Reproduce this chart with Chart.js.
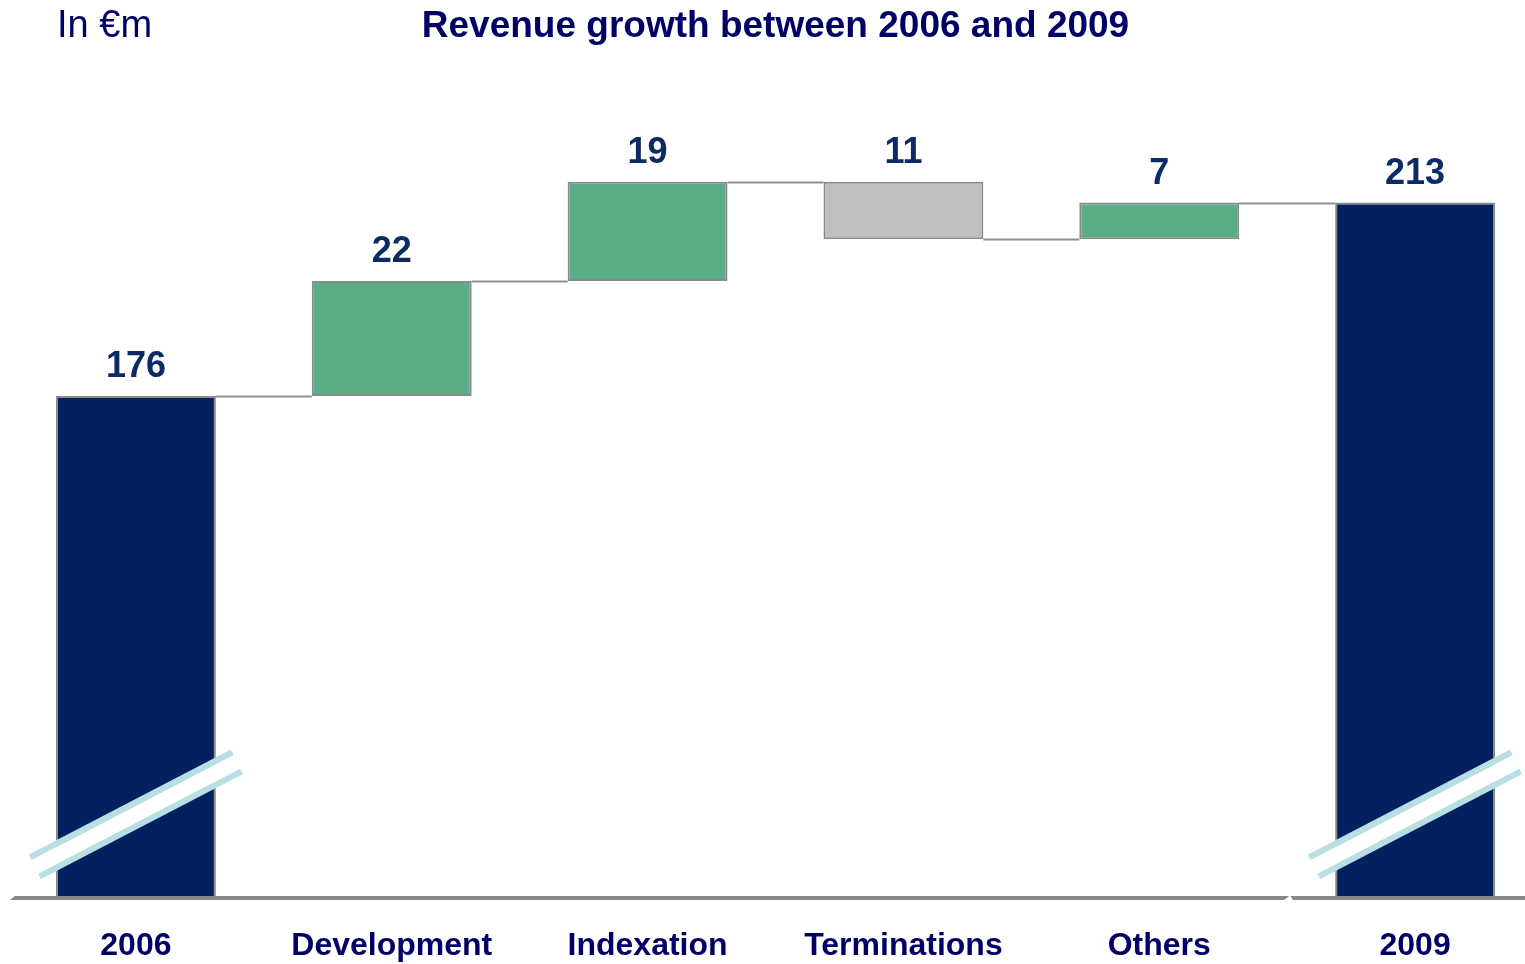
<!DOCTYPE html>
<html>
<head>
<meta charset="utf-8">
<title>Revenue growth between 2006 and 2009</title>
<script src="https://cdn.jsdelivr.net/npm/chart.js@4.4.1/dist/chart.umd.min.js"></script>
<style>
  html, body { margin: 0; padding: 0; background: #fff; overflow: hidden; }
  #wrap { width: 1545px; height: 964px; }
</style>
</head>
<body>
<div id="wrap"><canvas id="revenue-chart"></canvas></div>
<script>
const categories = ['2006', 'Development', 'Indexation', 'Terminations', 'Others', '2009'];
const openingRevenue = 176;
const movements = [22, 19, -11, 7];
const closingRevenue = 213;

// the value axis is cut: bars start at axisFloor, break marks sit at breakAt
const axisFloor = 80;
const axisCeiling = 240;
const breakAt = 96;

const NAVY = '#03215f';
const GREEN = '#5bae83';
const GREY = '#bfbfbf';
const EDGE = '#8a8a8a';
const TEXT = '#000066';
const VALUE_TEXT = '#0c2a63';
const FONT = "'Liberation Sans', Arial, sans-serif";

// floating ranges for each bar + running level after each bar
const ranges = [[axisFloor, openingRevenue]];
const shown = [openingRevenue];
const colors = [NAVY];
const levels = [openingRevenue];
let level = openingRevenue;
movements.forEach(m => {
  const next = level + m;
  ranges.push([Math.min(level, next), Math.max(level, next)]);
  shown.push(Math.abs(m));
  colors.push(m >= 0 ? GREEN : GREY);
  level = next;
  levels.push(level);
});
ranges.push([axisFloor, closingRevenue]);
shown.push(closingRevenue);
colors.push(NAVY);

const waterfallDecor = {
  id: 'waterfallDecor',
  afterDatasetsDraw(chart) {
    const ctx = chart.ctx;
    const bars = chart.getDatasetMeta(0).data;
    const y = chart.scales.y;
    const area = chart.chartArea;

    // connectors between neighbouring bars
    ctx.save();
    ctx.strokeStyle = '#8f8f8f';
    ctx.lineWidth = 2;
    for (let i = 0; i < bars.length - 1; i++) {
      const py = Math.round(y.getPixelForValue(levels[i])) + 0.5;
      ctx.beginPath();
      ctx.moveTo(bars[i].x + bars[i].width / 2, py);
      ctx.lineTo(bars[i + 1].x - bars[i + 1].width / 2, py);
      ctx.stroke();
    }
    ctx.restore();

    // baseline with a small notch before the last bar
    const by = y.getPixelForValue(axisFloor);
    ctx.save();
    ctx.fillStyle = '#878787';
    ctx.beginPath();
    ctx.moveTo(area.left + 2, by + 2);
    ctx.lineTo(area.left + 7, by - 2);
    ctx.lineTo(chart.width, by - 2);
    ctx.lineTo(chart.width, by + 2);
    ctx.closePath();
    ctx.fill();
    const last = bars.length - 1;
    const nx = ((bars[last - 1].x + bars[last - 1].width / 2) + (bars[last].x - bars[last].width / 2)) / 2;
    ctx.fillStyle = '#fff';
    ctx.beginPath();
    ctx.moveTo(nx - 4, by + 2.5);
    ctx.lineTo(nx + 3, by - 2.5);
    ctx.lineTo(nx + 6, by + 2.5);
    ctx.closePath();
    ctx.fill();
    ctx.restore();

    // axis break marks across the two total bars
    [0, last].forEach(i => {
      const cx = bars[i].x;
      const cy = y.getPixelForValue(breakAt);
      const hx = 101, hy = -52.5;   // half length along the stroke
      const nxo = 4.7, nyo = 9.6;   // offset to each edge line
      ctx.save();
      ctx.lineCap = 'butt';
      ctx.strokeStyle = '#fff';
      ctx.lineWidth = 16;
      ctx.beginPath();
      ctx.moveTo(cx - hx, cy - hy);
      ctx.lineTo(cx + hx, cy + hy);
      ctx.stroke();
      ctx.strokeStyle = '#b8dfe3';
      ctx.lineWidth = 6;
      [-1, 1].forEach(s => {
        ctx.beginPath();
        ctx.moveTo(cx - hx + s * nxo, cy - hy + s * nyo);
        ctx.lineTo(cx + hx + s * nxo, cy + hy + s * nyo);
        ctx.stroke();
      });
      ctx.restore();
    });

    // value labels above each bar
    ctx.save();
    ctx.fillStyle = VALUE_TEXT;
    ctx.font = 'bold 36px ' + FONT;
    ctx.textAlign = 'center';
    ctx.textBaseline = 'alphabetic';
    bars.forEach((bar, i) => {
      const top = y.getPixelForValue(ranges[i][1]);
      ctx.fillText(String(shown[i]), bar.x, top - 19);
    });
    ctx.restore();

    // unit note in the top left corner
    ctx.save();
    ctx.fillStyle = TEXT;
    ctx.font = '38px ' + FONT;
    ctx.textAlign = 'left';
    ctx.textBaseline = 'alphabetic';
    ctx.fillText('In €m', area.left + 49, 37);
    ctx.restore();
  }
};

new Chart(document.getElementById('revenue-chart'), {
  type: 'bar',
  data: {
    labels: categories,
    datasets: [{
      data: ranges,
      backgroundColor: colors,
      borderColor: EDGE,
      borderWidth: 2,
      borderSkipped: false,
      barPercentage: 0.625,
      categoryPercentage: 1
    }]
  },
  options: {
    responsive: true,
    maintainAspectRatio: false,
    animation: false,
    layout: { padding: { left: 8, right: 2, top: 0, bottom: 0 } },
    scales: {
      x: {
        grid: { display: false, drawTicks: false },
        border: { display: false },
        ticks: {
          color: TEXT,
          padding: 29,
          autoSkip: false,
          maxRotation: 0,
          font: { family: FONT, size: 32, weight: 'bold' }
        },
        afterFit(axis) { axis.height = 66; }
      },
      y: {
        display: false,
        min: axisFloor,
        max: axisCeiling
      }
    },
    plugins: {
      legend: { display: false },
      tooltip: { enabled: false },
      title: {
        display: true,
        text: 'Revenue growth between 2006 and 2009',
        color: TEXT,
        font: { family: FONT, size: 37, weight: 'bold' },
        padding: { top: 5, bottom: 12 }
      }
    }
  },
  plugins: [waterfallDecor]
});
</script>
</body>
</html>
